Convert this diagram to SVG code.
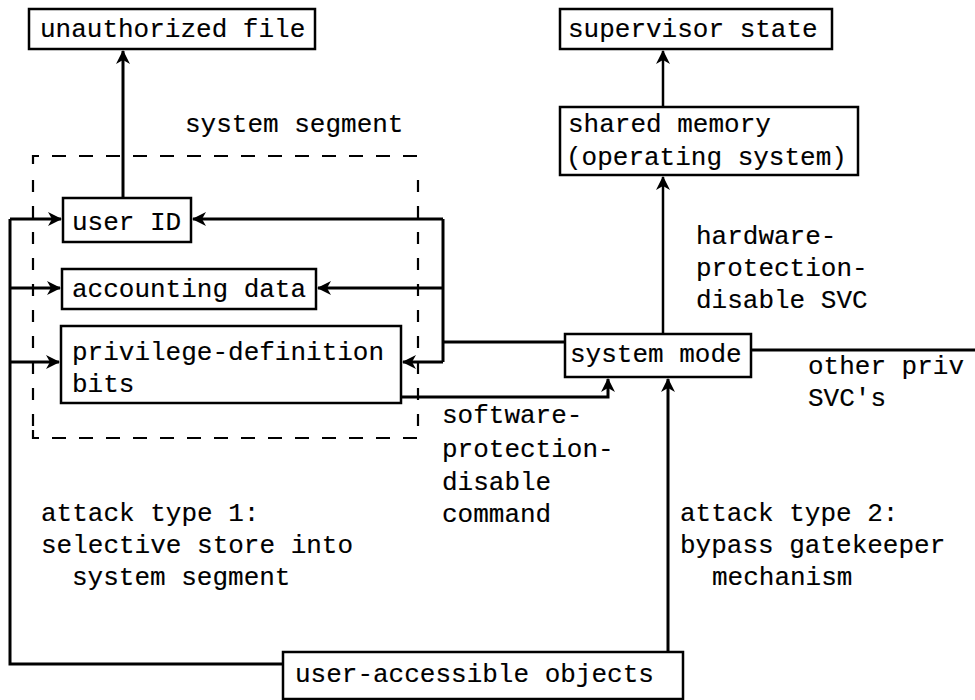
<svg xmlns="http://www.w3.org/2000/svg" width="975" height="700" viewBox="0 0 975 700">
  <defs>
    <style>
      .box { fill: #fff; stroke: #000; stroke-width: 2.5; }
      .wire { fill: none; stroke: #000; stroke-width: 3; }
      .thin { fill: none; stroke: #000; stroke-width: 2.5; }
      .dash { fill: none; stroke: #000; stroke-width: 2.2; stroke-dasharray: 14 13; }
      .dashv { fill: none; stroke: #000; stroke-width: 2.2; stroke-dasharray: 12 14; }
      text { font-family: "Liberation Mono", "Courier New", monospace; font-size: 26px; fill: #000; stroke: #000; stroke-width: 0.15; }
    </style>
    <marker id="arrow" viewBox="0 0 14 14" refX="13" refY="7" markerWidth="14" markerHeight="14" markerUnits="userSpaceOnUse" orient="auto">
      <path d="M0,0 L14,7 L0,14 L4,7 z" fill="#000"/>
    </marker>
  </defs>

  <!-- system segment boundary -->
  <g id="system-segment">
    <path class="dash" d="M33,164 L33,156 L418,156 L418,166"/>
    <path class="dashv" d="M33,180 L33,430"/>
    <path class="dashv" d="M418,180 L418,430"/>
    <path class="dash" d="M33,430 L33,438 L418,438 L418,428"/>
    <text x="185" y="132">system segment</text>
  </g>

  <!-- connectors -->
  <g id="connectors">
    <!-- user ID to unauthorized file -->
    <path class="wire" d="M123,198 L123,51" marker-end="url(#arrow)"/>
    <!-- shared memory to supervisor state -->
    <path class="thin" d="M663,107 L663,51" marker-end="url(#arrow)"/>
    <!-- system mode to shared memory -->
    <path class="thin" d="M663,334 L663,177" marker-end="url(#arrow)"/>
    <!-- attack type 1: user-accessible objects into segment fields -->
    <path class="wire" d="M283,664 L10,664 L10,219"/>
    <path class="wire" d="M10,219 L61,219" marker-end="url(#arrow)"/>
    <path class="wire" d="M10,288 L60,288" marker-end="url(#arrow)"/>
    <path class="wire" d="M10,362 L59,362" marker-end="url(#arrow)"/>
    <!-- system mode bus into segment fields -->
    <path class="wire" d="M565,342 L443,342"/>
    <path class="wire" d="M443,219 L443,362"/>
    <path class="wire" d="M443,219 L193,219" marker-end="url(#arrow)"/>
    <path class="wire" d="M443,288 L318,288" marker-end="url(#arrow)"/>
    <path class="wire" d="M443,362 L403,362" marker-end="url(#arrow)"/>
    <!-- software-protection-disable command -->
    <path class="wire" d="M401,397 L608,397 L608,379" marker-end="url(#arrow)"/>
    <!-- attack type 2: bypass gatekeeper -->
    <path class="wire" d="M668,652 L668,379" marker-end="url(#arrow)"/>
    <!-- other privileged SVCs -->
    <path class="wire" d="M751,350 L975,350"/>
  </g>

  <g id="unauthorized-file">
    <rect class="box" x="29" y="9" width="286" height="40"/>
    <text x="40" y="37">unauthorized file</text>
  </g>

  <g id="supervisor-state">
    <rect class="box" x="560" y="9" width="272" height="40"/>
    <text x="568" y="37">supervisor state</text>
  </g>

  <g id="shared-memory">
    <rect class="box" x="560" y="107" width="298" height="68"/>
    <text x="568" y="132">shared memory</text>
    <text x="566" y="165">(operating system)</text>
  </g>

  <g id="user-id">
    <rect class="box" x="63" y="198" width="128" height="44"/>
    <text x="72" y="230">user ID</text>
  </g>

  <g id="accounting-data">
    <rect class="box" x="62" y="269" width="254" height="40"/>
    <text x="72" y="297">accounting data</text>
  </g>

  <g id="privilege-bits">
    <rect class="box" x="61" y="326" width="340" height="77"/>
    <text x="72" y="360">privilege-definition</text>
    <text x="72" y="392">bits</text>
  </g>

  <g id="system-mode">
    <rect class="box" x="565" y="334" width="186" height="43"/>
    <text x="570" y="362">system mode</text>
  </g>

  <g id="user-accessible-objects">
    <rect class="box" x="283" y="652" width="400" height="47"/>
    <text x="295" y="682">user-accessible objects</text>
  </g>

  <!-- labels -->
  <g id="labels">
    <text x="696" y="244">hardware-</text>
    <text x="696" y="276">protection-</text>
    <text x="696" y="308">disable SVC</text>
    <text x="808" y="374">other priv</text>
    <text x="808" y="406">SVC's</text>
    <text x="442" y="423">software-</text>
    <text x="442" y="457">protection-</text>
    <text x="442" y="490">disable</text>
    <text x="442" y="522">command</text>
    <text x="41" y="521">attack type 1:</text>
    <text x="41" y="553">selective store into</text>
    <text x="72" y="585">system segment</text>
    <text x="680" y="521">attack type 2:</text>
    <text x="680" y="553">bypass gatekeeper</text>
    <text x="712" y="585">mechanism</text>
  </g>
</svg>
